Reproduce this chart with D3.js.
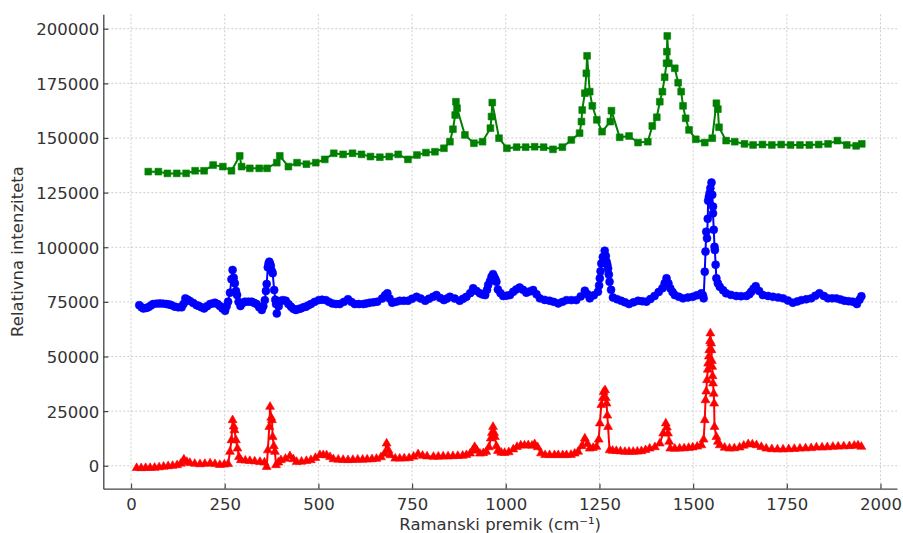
<!DOCTYPE html>
<html>
<head>
<meta charset="utf-8">
<script src="https://cdn.jsdelivr.net/npm/d3@7"></script>
<style>
  html, body { margin: 0; padding: 0; background: #fff; }
  svg text { font-family: "DejaVu Sans", sans-serif; fill: #333; }
</style>
</head>
<body>
<svg id="chart" width="903" height="533"></svg>
<script>
// Raman shift (cm^-1) and relative intensity
const redSeries = [
  [15,-1000],[27,-1100],[39,-1000],[51,-1000],[63,-900],[75,-700],[87,-400],[99,-200],[111,0],[123,300],
  [133,1000],[141,2900],[149,1800],[157,1300],[170,900],[184,700],[197,900],[211,1100],[224,800],[237,400],
  [249,600],[259,800],[264,6400],[268,11700],[271,20900],[274,18000],[276,16300],[280,11700],[284,7900],[288,4000],
  [293,2600],[305,2400],[317,2200],[330,2000],[344,1800],[356,1500],[362,-500],[365,7100],[369,17800],[371,27000],
  [374,22000],[376,20900],[378,13200],[381,9000],[384,6400],[387,300],[393,1500],[400,2600],[412,3200],[424,4400],
  [433,3000],[442,1800],[455,1900],[468,2200],[480,2600],[492,3600],[504,4900],[513,4900],[522,4800],[531,4000],
  [540,3000],[553,2800],[566,2700],[579,2600],[592,2700],[605,2800],[618,2800],[630,2900],[643,3000],[655,3200],
  [667,3900],[676,5500],[682,10200],[687,7000],[692,4800],[705,3300],[717,3300],[729,3400],[742,3500],[754,4200],
  [766,5300],[778,4600],[790,4300],[807,4100],[820,4200],[833,4300],[846,4300],[859,4400],[872,4500],[885,4600],
  [895,4900],[905,5600],[912,7000],[917,8600],[923,7000],[931,5600],[940,5800],[948,6400],[955,8500],[960,12500],
  [963,15000],[966,17800],[969,15000],[971,13200],[975,9000],[979,6800],[988,6000],[997,5900],[1008,6200],[1020,7500],
  [1030,8600],[1040,9300],[1050,9300],[1060,9400],[1070,9200],[1077,9900],[1085,8500],[1094,5700],[1105,4900],[1117,4900],
  [1130,4900],[1140,4900],[1152,4900],[1162,4900],[1174,5000],[1184,5600],[1193,6400],[1203,9000],[1211,12500],[1218,10000],
  [1224,7900],[1233,8200],[1242,8700],[1248,12000],[1251,19400],[1255,27800],[1259,31000],[1261,33800],[1265,34600],[1267,31000],
  [1269,28500],[1271,23000],[1273,17800],[1277,7100],[1285,6900],[1295,6800],[1306,6600],[1318,6400],[1329,6400],[1340,6400],
  [1351,6500],[1362,6700],[1373,7200],[1384,7900],[1398,8500],[1411,10200],[1420,14800],[1427,19400],[1430,17500],[1433,14800],
  [1436,11000],[1439,7900],[1451,7800],[1464,7900],[1476,8000],[1488,8200],[1499,8400],[1511,8800],[1522,9400],[1528,12000],
  [1531,20900],[1533,30000],[1535,34000],[1537,39200],[1539,44000],[1540,46800],[1542,50000],[1543,52900],[1545,57000],[1546,60600],
  [1548,56000],[1549,52900],[1550,48000],[1551,45300],[1552,41000],[1553,37700],[1555,33000],[1556,28500],[1557,17800],[1562,13200],
  [1566,11000],[1571,9400],[1584,8300],[1597,7900],[1610,8000],[1624,8400],[1635,9200],[1647,9900],[1658,9800],[1669,9400],
  [1682,8600],[1695,7900],[1710,7600],[1725,7500],[1740,7500],[1755,7600],[1770,7700],[1785,7900],[1800,8000],[1815,8100],
  [1829,8400],[1844,8400],[1858,8500],[1873,8700],[1887,8800],[1902,8900],[1917,9000],[1930,9200],[1940,9300],[1949,8700]
];

const blueSeries = [
  [22,73500],[28,72500],[33,72000],[40,72200],[46,72500],[53,73300],[59,74000],[68,74200],[77,74300],[86,74200],
  [95,74000],[102,73800],[108,73500],[117,72800],[126,72500],[135,72500],[140,74000],[145,76600],[151,76000],[157,75400],
  [166,74500],[175,73500],[181,73100],[188,72500],[195,72000],[203,73000],[211,74000],[218,74300],[224,74600],[231,74000],
  [237,73100],[244,72000],[251,70900],[255,73000],[259,75100],[264,79200],[268,85300],[271,89600],[274,86000],[277,83500],
  [280,80000],[283,78100],[287,75000],[292,73100],[298,74500],[304,75100],[313,75100],[322,75100],[329,74500],[335,74000],
  [342,72500],[349,71300],[353,73000],[357,75800],[360,80000],[362,83200],[365,90800],[367,92500],[369,93400],[371,92500],
  [373,91400],[376,89000],[378,88100],[382,80400],[385,76000],[387,74000],[389,69700],[394,73000],[400,75500],[406,75800],
  [413,75500],[420,74000],[427,72800],[433,71800],[440,71300],[447,71700],[453,72000],[460,72500],[467,72800],[473,73400],
  [480,74000],[490,75000],[501,75800],[510,76000],[520,75800],[528,75000],[537,74300],[547,74000],[557,74000],[568,75000],
  [579,76200],[588,75000],[597,74000],[608,74000],[620,74000],[628,74300],[637,74600],[647,74800],[657,75100],[670,76500],
  [678,78000],[684,78900],[690,76500],[697,74600],[707,75000],[717,75500],[728,75500],[739,75500],[750,76400],[762,77300],
  [773,76500],[785,75500],[795,76400],[806,77300],[815,78100],[825,76800],[835,75800],[843,76500],[851,77300],[864,76500],
  [877,75500],[886,76400],[895,77300],[905,79000],[913,81200],[922,80000],[931,78900],[938,78400],[945,78100],[950,80500],
  [953,82700],[958,84500],[962,86500],[966,87700],[969,86500],[972,85500],[975,84200],[979,80700],[986,79000],[993,77700],
  [1002,77800],[1011,78100],[1020,79600],[1028,80700],[1037,81600],[1046,80500],[1055,79200],[1064,79800],[1073,80400],[1082,78500],
  [1091,76600],[1104,75900],[1117,75500],[1128,75000],[1140,74300],[1151,75000],[1162,75800],[1175,75800],[1188,75800],[1200,77500],
  [1211,80100],[1218,78500],[1224,76600],[1235,78000],[1246,79600],[1249,82500],[1251,85800],[1253,89000],[1255,92600],[1259,95500],
  [1264,98400],[1267,96000],[1269,93400],[1271,92000],[1273,90300],[1275,87500],[1277,84200],[1281,80500],[1286,77000],[1297,76200],
  [1308,75500],[1318,74800],[1329,74000],[1341,74800],[1353,75500],[1364,75300],[1375,75100],[1386,76300],[1397,77700],[1408,79500],
  [1418,81200],[1424,83500],[1429,85800],[1434,83500],[1439,81200],[1445,79500],[1451,78100],[1462,77300],[1473,76600],[1486,77000],
  [1499,77300],[1510,78000],[1522,78900],[1526,78000],[1528,76600],[1531,88800],[1533,98000],[1535,107100],[1537,104100],[1539,113000],
  [1540,121300],[1542,123000],[1544,124700],[1546,127000],[1549,129600],[1551,124000],[1553,118600],[1553,115500],[1555,108000],[1557,100200],
  [1558,98700],[1560,92000],[1562,85800],[1566,83500],[1571,81900],[1580,80300],[1588,78900],[1601,78200],[1615,77700],[1628,77600],
  [1642,77700],[1650,78500],[1655,79600],[1661,81000],[1667,82200],[1676,80000],[1686,78100],[1700,77700],[1713,77300],[1727,77000],
  [1740,76600],[1753,75600],[1766,74600],[1778,75200],[1789,75800],[1802,76200],[1815,76600],[1826,77800],[1837,78900],[1849,77700],
  [1860,76600],[1871,76600],[1882,76600],[1893,76100],[1904,75500],[1915,75300],[1926,75100],[1937,74000],[1944,76000],[1949,77600]
];

const greenSeries = [
  [46,134600],[73,134600],[97,133800],[122,133800],[147,133800],[171,135000],[195,135000],[219,137600],[245,136900],[268,135000],
  [290,141800],[295,136900],[317,136100],[342,136100],[363,136100],[389,138700],[397,141800],[420,136900],[443,138700],[468,138000],
  [493,138700],[517,140200],[541,143000],[566,142500],[591,143000],[615,142500],[639,141500],[664,141200],[689,141500],[713,142500],
  [739,140200],[763,142200],[787,143300],[811,143700],[835,145300],[851,148300],[859,154000],[865,160500],[867,166600],[870,163600],
  [891,151400],[915,147600],[938,148300],[959,154500],[962,159800],[964,166200],[982,149900],[1003,145300],[1029,145800],[1053,145800],
  [1077,146000],[1101,145800],[1126,144800],[1151,145800],[1175,149100],[1197,152200],[1202,157500],[1204,162800],[1211,170500],[1215,179600],
  [1217,187600],[1224,171200],[1231,164700],[1243,158300],[1257,152900],[1279,157500],[1282,162500],[1304,150300],[1329,150900],[1353,147900],
  [1379,148300],[1391,155500],[1403,159500],[1411,166600],[1418,171200],[1424,177800],[1429,184200],[1430,189500],[1431,196700],[1435,184200],
  [1451,181900],[1460,175300],[1468,171200],[1473,164700],[1480,159000],[1489,153700],[1507,149400],[1531,147900],[1551,149900],[1562,165900],
  [1566,163200],[1569,154900],[1588,148800],[1611,148300],[1637,147300],[1660,146800],[1685,147000],[1710,146800],[1735,147000],[1760,146800],
  [1785,146800],[1810,146800],[1835,147000],[1860,147300],[1885,148800],[1910,146800],[1935,146400],[1950,147300]
];

const xTicks = [0, 250, 500, 750, 1000, 1250, 1500, 1750, 2000];
const yTicks = [0, 25000, 50000, 75000, 100000, 125000, 150000, 175000, 200000];

const xLabel = "Ramanski premik (cm\u207B\u00B9)";
const yLabel = "Relativna intenziteta";

const plot = { left: 103.3, right: 897, top: 14.3, bottom: 488.7 };

const svg = d3.select("#chart");

const x = d3.scaleLinear().domain([-74, 2044]).range([plot.left, plot.right]);
const y = d3.scaleLinear().domain([-10500, 206600]).range([plot.bottom, plot.top]);

// grid
const grid = svg.append("g")
    .attr("stroke", "#c8c8c8")
    .attr("stroke-width", 0.9)
    .attr("stroke-dasharray", "2,2");

grid.selectAll(".gx")
    .data(xTicks)
    .join("line")
    .attr("x1", d => x(d)).attr("x2", d => x(d))
    .attr("y1", plot.top).attr("y2", plot.bottom);

grid.selectAll(".gy")
    .data(yTicks)
    .join("line")
    .attr("y1", d => y(d)).attr("y2", d => y(d))
    .attr("x1", plot.left).attr("x2", plot.right);

// axes
const xAxis = svg.append("g")
    .attr("transform", `translate(0,${plot.bottom})`)
    .call(d3.axisBottom(x).tickValues(xTicks).tickSizeInner(-5).tickSizeOuter(0).tickPadding(10).tickFormat(d3.format("d")));

const yAxis = svg.append("g")
    .attr("transform", `translate(${plot.left},0)`)
    .call(d3.axisLeft(y).tickValues(yTicks).tickSizeInner(-5).tickSizeOuter(0).tickPadding(4).tickFormat(d3.format("d")));

[xAxis, yAxis].forEach(a => {
    a.select(".domain").attr("stroke", "#444").attr("stroke-width", 1.3);
    a.selectAll(".tick line").attr("stroke", "#444").attr("stroke-width", 1.2);
    a.selectAll(".tick text").attr("font-size", 16.5).attr("fill", "#333");
});
yAxis.selectAll(".tick text").attr("dy", "0.36em");

// series
const series = [
    { data: redSeries, color: "#ff0000", shape: d3.symbolTriangle, size: 34 },
    { data: blueSeries, color: "#0000ff", shape: d3.symbolCircle, size: 50 },
    { data: greenSeries, color: "#008000", shape: d3.symbolSquare, size: 46 }
];

const line = d3.line().x(d => x(d[0])).y(d => y(d[1]));

series.forEach(s => {
    const g = svg.append("g");
    g.append("path")
        .datum(s.data)
        .attr("fill", "none")
        .attr("stroke", s.color)
        .attr("stroke-width", 2)
        .attr("d", line);

    g.selectAll("path.m")
        .data(s.data)
        .join("path")
        .attr("class", "m")
        .attr("d", d3.symbol().type(s.shape).size(s.size))
        .attr("transform", d => `translate(${x(d[0])},${y(d[1])})`)
        .attr("fill", s.color)
        .attr("stroke", s.color)
        .attr("stroke-opacity", 0.6)
        .attr("stroke-width", 1);
});

// labels
svg.append("text")
    .attr("x", (plot.left + plot.right) / 2)
    .attr("y", 530)
    .attr("text-anchor", "middle")
    .attr("font-size", 16.5)
    .text(xLabel);

svg.append("text")
    .attr("transform", `translate(23,${(plot.top + plot.bottom) / 2}) rotate(-90)`)
    .attr("text-anchor", "middle")
    .attr("font-size", 16.5)
    .text(yLabel);
</script>
</body>
</html>
